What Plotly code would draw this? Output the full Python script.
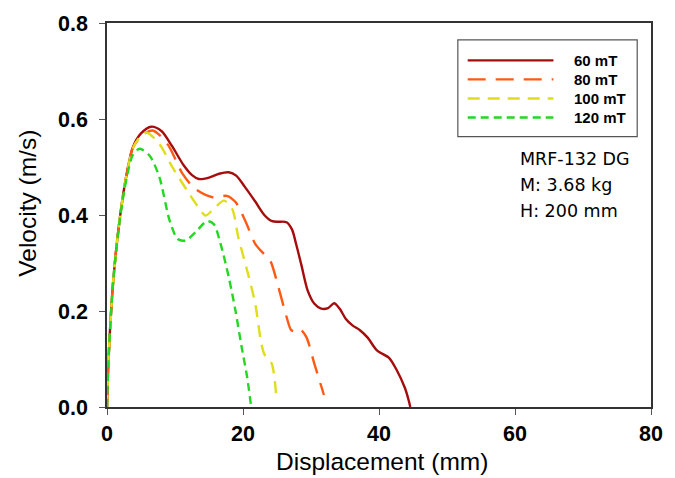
import plotly.graph_objects as go

names = ["60 mT", "80 mT", "100 mT", "120 mT"]
colors = ["#a50d0d", "#ff5a14", "#dede1a", "#22d822"]
dashes = ["solid", "18px,10px", "12px,8px", "8px,5px"]

x60 = [0, 0.2, 0.9, 1.9, 2.9, 3.8, 5.0, 6.5, 8.0, 9.5, 11.3, 12.5, 13.5, 15.0, 16.5, 17.9, 19.0, 20.3, 21.8, 23.2, 24.3, 25.2, 26.4, 27.2, 27.8, 28.6, 29.5, 30.5, 31.5, 32.5, 33.4, 34.2, 35.1, 36.1, 37.2, 38.3, 39.7, 41.5, 42.6, 43.8, 44.4, 44.6]
y60 = [0, 0.09, 0.26, 0.395, 0.486, 0.541, 0.570, 0.584, 0.575, 0.545, 0.503, 0.483, 0.475, 0.478, 0.486, 0.489, 0.482, 0.458, 0.428, 0.399, 0.387, 0.386, 0.385, 0.370, 0.340, 0.295, 0.243, 0.215, 0.205, 0.206, 0.216, 0.205, 0.184, 0.170, 0.160, 0.145, 0.118, 0.102, 0.077, 0.040, 0.012, 0.0]

x80 = [0, 0.2, 0.9, 1.9, 2.9, 3.8, 5.2, 6.7, 8.0, 9.2, 11.1, 13.0, 15.5, 16.6, 17.6, 18.9, 20.3, 21.8, 23.0, 24.0, 25.2, 26.4, 27.1, 27.7, 28.3, 29.3, 30.5, 31.9]
y80 = [0, 0.09, 0.26, 0.395, 0.486, 0.540, 0.566, 0.576, 0.563, 0.541, 0.486, 0.454, 0.437, 0.438, 0.440, 0.427, 0.389, 0.340, 0.320, 0.305, 0.250, 0.188, 0.160, 0.158, 0.163, 0.146, 0.090, 0.025]

x100 = [0, 0.2, 0.9, 1.9, 2.9, 3.8, 4.8, 5.8, 7.7, 9.6, 12.1, 13.5, 14.5, 15.7, 17.2, 18.4, 19.3, 20.6, 21.8, 22.7, 23.2, 24.2, 24.9]
y100 = [0, 0.09, 0.26, 0.395, 0.486, 0.538, 0.562, 0.572, 0.548, 0.500, 0.444, 0.415, 0.399, 0.413, 0.430, 0.413, 0.354, 0.285, 0.215, 0.132, 0.108, 0.091, 0.021]

x120 = [0, 0.2, 0.9, 1.9, 2.9, 3.8, 4.8, 6.25, 7.7, 9.2, 10.4, 11.6, 13.0, 14.7, 15.7, 16.7, 17.9, 18.9, 19.8, 20.6, 21.2]
y120 = [0, 0.09, 0.26, 0.392, 0.478, 0.525, 0.538, 0.524, 0.479, 0.389, 0.350, 0.347, 0.364, 0.387, 0.381, 0.340, 0.271, 0.200, 0.125, 0.063, 0.0]

xs = [x60, x80, x100, x120]
ys = [y60, y80, y100, y120]

info_lines = ["MRF-132 DG", "M: 3.68 kg", "H: 200 mm"]

x_ticks = [0, 20, 40, 60, 80]
y_ticks = [0.0, 0.2, 0.4, 0.6, 0.8]
y_tick_text = ["0.0", "0.2", "0.4", "0.6", "0.8"]

x_title = "Displacement (mm)"
y_title = "Velocity (m/s)"

fig = go.Figure()
for n, c, d, xv, yv in zip(names, colors, dashes, xs, ys):
    fig.add_trace(go.Scatter(x=xv, y=yv, mode="lines", name=n,
                             line=dict(color=c, width=2.4, dash=d, shape="spline", smoothing=0.8),
                             showlegend=False))

W, H = 675, 478
ml, mr, mt, mb = 107, 16, 22, 71
pw, ph = W - ml - mr, H - mt - mb

def px(xp):
    return (xp - ml) / pw

def py(yp):
    return 1 - (yp - mt) / ph

ARIAL = "Liberation Sans, Arial"
shapes = []
annotations = []
# legend box
shapes.append(dict(type="rect", xref="paper", yref="paper",
                   x0=px(463), x1=px(645), y0=py(136), y1=py(39),
                   line=dict(color="#555555", width=1.2), fillcolor="white"))
rows = [59.5, 78.5, 97.7, 116.7]
for n, c, d, r in zip(names, colors, dashes, rows):
    shapes.append(dict(type="line", xref="paper", yref="paper",
                       x0=px(473), x1=px(560), y0=py(r), y1=py(r),
                       line=dict(color=c, width=2.4, dash=d)))
    annotations.append(dict(xref="paper", yref="paper", x=px(579), y=py(r),
                            text=n, showarrow=False, xanchor="left",
                            yanchor="middle", font=dict(family=ARIAL, size=15, weight="bold", color="black")))

info_y = [158.5, 184, 210]
for t, yy in zip(info_lines, info_y):
    annotations.append(dict(xref="paper", yref="paper", x=px(524), y=py(yy),
                            text=t, showarrow=False, xanchor="left", yanchor="middle",
                            font=dict(family="DejaVu Sans, Verdana", size=17.5, color="black")))

annotations.append(dict(xref="paper", yref="paper", x=px(26), y=py(203), text=y_title,
                        textangle=-90, showarrow=False, xanchor="center", yanchor="middle",
                        font=dict(family=ARIAL, size=24.5, color="black")))
annotations.append(dict(xref="paper", yref="paper", x=px(386), y=py(462), text=x_title,
                        showarrow=False, xanchor="center", yanchor="middle",
                        font=dict(family=ARIAL, size=24.5, color="black")))

fig.update_layout(
    width=W, height=H,
    margin=dict(l=ml, r=mr, t=mt, b=mb),
    plot_bgcolor="white", paper_bgcolor="white",
    shapes=shapes, annotations=annotations,
    xaxis=dict(range=[0, 80], tickvals=x_ticks, ticks="outside", ticklen=6,
               tickcolor="#555555", showline=True, linecolor="#333333", linewidth=1.5,
               mirror=True, showgrid=False, zeroline=False, ticklabelstandoff=0,
               tickfont=dict(family=ARIAL, size=21.5, weight="bold", color="black")),
    yaxis=dict(range=[0, 0.8], tickvals=y_ticks, ticktext=y_tick_text, ticks="outside", ticklen=6,
               tickcolor="#555555", showline=True, linecolor="#333333", linewidth=1.5,
               mirror=True, showgrid=False, zeroline=False, ticklabelstandoff=7,
               tickfont=dict(family=ARIAL, size=21.5, weight="bold", color="black")),
)

fig.write_html("out.html", config={"displayModeBar": False, "responsive": False},
               post_script="document.body.style.margin='0';document.body.style.overflow='hidden';document.documentElement.style.overflow='hidden';")
